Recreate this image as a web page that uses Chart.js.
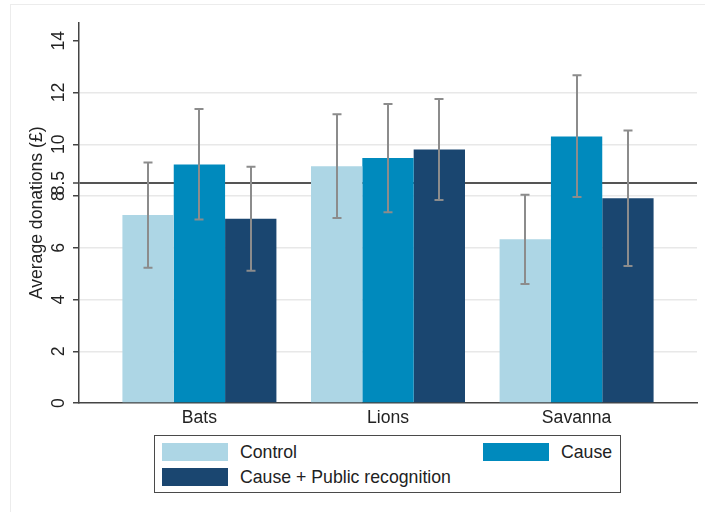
<!DOCTYPE html>
<html>
<head>
<meta charset="utf-8">
<script src="https://cdn.jsdelivr.net/npm/chart.js@4/dist/chart.umd.min.js"></script>
<style>
  html, body { margin: 0; padding: 0; background: #fff; }
  #wrap { position: relative; width: 705px; height: 512px; overflow: hidden; font-family: "Liberation Sans", Arial, sans-serif; }
  #frame { position: absolute; left: 10px; top: 4px; width: 720px; height: 540px; border: 1px solid #ececec; box-sizing: border-box; }
  #chart { position: absolute; left: 0; top: 0; }
  #legend { position: absolute; left: 154px; top: 435px; width: 467px; height: 58px; border: 1.5px solid #4a4a4a; box-sizing: border-box; background: #fff; }
  .item { position: absolute; height: 18px; display: flex; align-items: center; font-size: 17.7px; color: #222; white-space: nowrap; }
  .sw { width: 66px; height: 17.5px; margin-right: 12px; flex: none; }
</style>
</head>
<body>
<div id="wrap">
  <div id="frame"></div>
  <canvas id="chart" width="705" height="512"></canvas>
  <div id="legend"></div>
</div>
<script>
// Groups and series
const categories = ['Bats', 'Lions', 'Savanna'];
const seriesNames = ['Control', 'Cause', 'Cause + Public recognition'];

// Mean donations per group
const controlMeans = [7.27, 9.15, 6.33];
const causeMeans   = [9.22, 9.47, 10.30];
const publicMeans  = [7.12, 9.80, 7.91];

// Confidence interval bounds
const controlLow  = [5.23, 7.15, 4.60];
const controlHigh = [9.30, 11.16, 8.05];
const causeLow    = [7.09, 7.37, 7.96];
const causeHigh   = [11.36, 11.56, 12.67];
const publicLow   = [5.11, 7.85, 5.30];
const publicHigh  = [9.13, 11.75, 10.53];

// Axis ticks and reference level
const yTicks = [0, 2, 4, 6, 8, 8.5, 10, 12, 14];
const referenceValue = 8.5;

const colors = ['#add6e5', '#008abd', '#1a4670'];
const FONT = { family: '"Liberation Sans", Arial, sans-serif', size: 17.6 };

const toPoints = vals => vals.map((v, i) => ({ x: i + 1, y: v }));

const series = [
  { means: controlMeans, low: controlLow, high: controlHigh },
  { means: causeMeans, low: causeLow, high: causeHigh },
  { means: publicMeans, low: publicLow, high: publicHigh }
];

const datasets = series.map((s, k) => ({
  label: seriesNames[k],
  data: toPoints(s.means),
  errorLow: s.low,
  errorHigh: s.high,
  backgroundColor: colors[k],
  borderWidth: 0,
  categoryPercentage: 0.8166,
  barPercentage: 1
}));

// Whiskers with caps for each bar's interval
const errorBars = {
  id: 'errorBars',
  afterDatasetsDraw(chart) {
    const ctx = chart.ctx;
    const ys = chart.scales.y;
    ctx.save();
    ctx.strokeStyle = '#8c8c8c';
    ctx.lineWidth = 2;
    chart.data.datasets.forEach((ds, i) => {
      chart.getDatasetMeta(i).data.forEach((bar, j) => {
        const lo = ys.getPixelForValue(ds.errorLow[j]);
        const hi = ys.getPixelForValue(ds.errorHigh[j]);
        const x = Math.round(bar.x);
        const half = 4.5;
        ctx.beginPath();
        ctx.moveTo(x, lo); ctx.lineTo(x, hi);
        ctx.moveTo(x - half, lo); ctx.lineTo(x + half, lo);
        ctx.moveTo(x - half, hi); ctx.lineTo(x + half, hi);
        ctx.stroke();
      });
    });
    ctx.restore();
  }
};

new Chart(document.getElementById('chart'), {
  type: 'bar',
  data: { datasets },
  plugins: [errorBars],
  options: {
    responsive: false,
    animation: false,
    devicePixelRatio: 1,
    layout: { padding: { top: 22.7, right: 8, bottom: 0, left: 0 } },
    plugins: { legend: { display: false }, tooltip: { enabled: false } },
    scales: {
      x: {
        type: 'linear',
        min: 0.3615,
        max: 3.6385,
        offset: false,
        afterBuildTicks: s => { s.ticks = categories.map((c, i) => ({ value: i + 1 })); },
        afterFit: s => { s.height = 109; },
        grid: { display: true, drawOnChartArea: false, drawTicks: false },
        border: { display: true, color: '#444', width: 1.5 },
        ticks: {
          color: '#222',
          font: FONT,
          padding: 5,
          maxRotation: 0,
          autoSkip: false,
          callback: v => categories[Math.round(v) - 1]
        }
      },
      y: {
        type: 'linear',
        min: 0,
        max: 14.7,
        afterBuildTicks: s => { s.ticks = yTicks.map(v => ({ value: v })); },
        afterFit: s => { s.width = 79; },
        grid: {
          color: c => {
            const v = c.tick && c.tick.value;
            if (v === referenceValue) return '#555';
            if (v === 0 || v === 14) return 'rgba(0,0,0,0)';
            return '#e8e8e8';
          },
          lineWidth: c => (c.tick && c.tick.value === referenceValue) ? 2 : 1.5,
          tickColor: '#444',
          tickWidth: 1.5,
          tickLength: 6
        },
        border: { display: true, color: '#444', width: 1.5 },
        ticks: {
          color: '#222',
          font: FONT,
          minRotation: 90,
          maxRotation: 90,
          crossAlign: 'center',
          padding: 1.5,
          autoSkip: false,
          callback: v => String(v)
        },
        title: {
          display: true,
          text: 'Average donations (£)',
          color: '#222',
          font: FONT,
          padding: { top: 27, bottom: 0 }
        }
      }
    }
  }
});

// Legend box: two columns, series in reading order
const legendSpots = [
  { left: 7, top: 7 },
  { left: 328, top: 7 },
  { left: 7, top: 32 }
];
const legend = document.getElementById('legend');
seriesNames.forEach((name, k) => {
  const item = document.createElement('div');
  item.className = 'item';
  item.style.left = legendSpots[k].left + 'px';
  item.style.top = legendSpots[k].top + 'px';
  const sw = document.createElement('span');
  sw.className = 'sw';
  sw.style.background = colors[k];
  const tx = document.createElement('span');
  tx.textContent = name;
  item.appendChild(sw);
  item.appendChild(tx);
  legend.appendChild(item);
});
</script>
</body>
</html>
